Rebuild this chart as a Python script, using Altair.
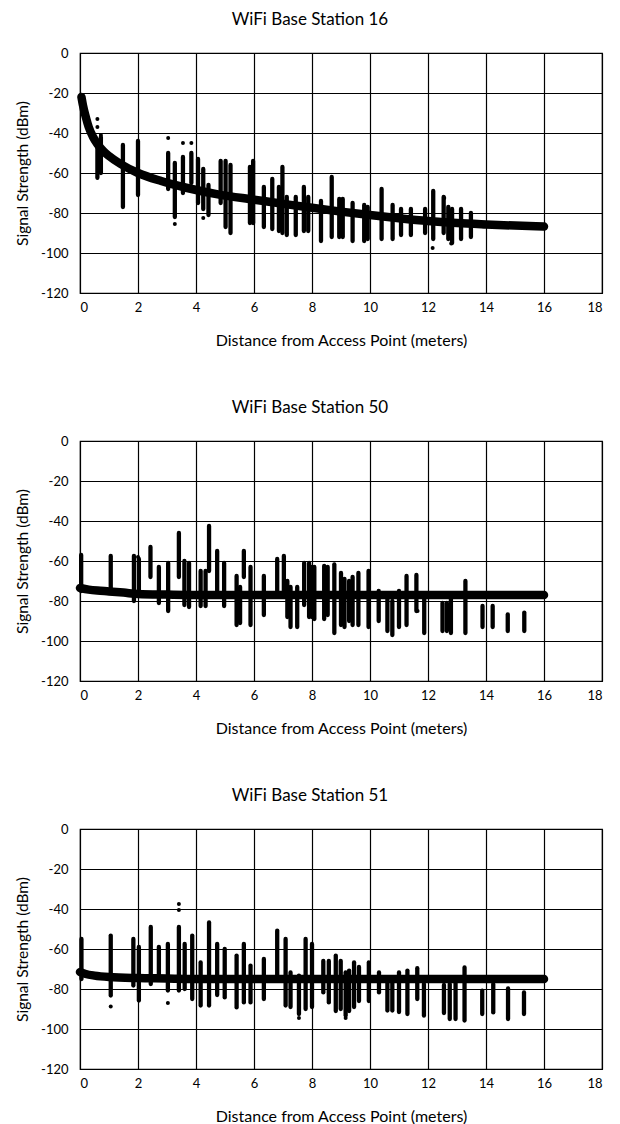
import altair as alt
import pandas as pd

FONT = "Lato"

# ---------------- WiFi Base Station 16 ----------------
s16_curve_d = [0.05, 0.1, 0.2, 0.3, 0.45, 0.6, 0.8, 1.0, 1.4, 2.0, 2.8, 3.7, 4.8, 6.0,
               7.2, 8.0, 9.0, 10.0, 11.0, 12.0, 13.0, 14.0, 15.0, 16.0]
s16_curve_s = [-22, -26, -32, -37, -42, -45.5, -49, -51.5, -55.5, -60, -64, -67.5, -70.8, -73.3,
               -75.8, -77.4, -79.3, -81, -82.6, -84, -85, -85.7, -86.3, -86.8]
s16_col_d = [0.6, 0.72, 1.48, 2.0, 3.04, 3.27, 3.55, 3.84, 4.07, 4.25, 4.43, 4.85, 5.02, 5.19,
             5.86, 5.97, 6.34, 6.63, 6.86, 6.98, 7.13, 7.44, 7.72, 7.87, 8.31, 8.68, 8.94, 9.06,
             9.4, 9.8, 9.92, 10.4, 10.78, 11.07, 11.41, 11.9, 12.18, 12.54, 12.7, 12.83, 13.14, 13.48]
s16_col_top = [-44, -42, -46, -44, -50, -55, -52, -50, -53, -58, -66, -54, -54, -56,
               -57, -54, -67, -63, -67, -57, -72, -72, -67, -72, -74, -62, -73, -73,
               -75, -76, -77, -68, -76, -78, -78, -78, -69, -72, -77, -78, -78, -80]
s16_col_bot = [-62, -60, -77, -71, -68, -82, -70, -65, -75, -78, -81, -75, -87, -90,
               -85, -85, -87, -88, -89, -90, -91, -91, -89, -89, -94, -92, -92, -92,
               -94, -94, -93, -93, -93, -91, -91, -90, -93, -90, -93, -95, -93, -92]
s16_dot_d = [0.6, 0.6, 0.72, 0.6, 3.04, 3.27, 3.55, 3.84, 4.25, 12.16, 12.8, 12.56]
s16_dot_s = [-33, -37, -41, -62.5, -42.5, -85.5, -45, -45, -82.5, -97.5, -95.3, -72.5]

# ---------------- WiFi Base Station 50 ----------------
s50_curve_d = [0, 0.3, 0.6, 1.0, 1.5, 2.0, 3, 4, 6, 8, 10, 12, 14, 16]
s50_curve_s = [-73.5, -74.3, -74.8, -75.2, -75.8, -76.5, -76.8, -77, -77, -77, -77, -77, -77, -77]
s50_col_d = [0.04, 1.06, 1.86, 2.03, 2.43, 2.72, 3.04, 3.41, 3.6, 3.76, 4.16, 4.33, 4.45, 4.73,
             4.97, 5.4, 5.52, 5.65, 5.88, 6.34, 6.8, 7.03, 7.15, 7.26, 7.49, 7.73, 7.9, 8.0,
             8.08, 8.42, 8.54, 8.77, 9.0, 9.12, 9.28, 9.4, 9.6, 9.95, 10.3, 10.6, 10.77, 11.0,
             11.26, 11.6, 11.87, 12.5, 12.65, 12.79, 13.29, 13.88, 14.23, 14.75, 15.32]
s50_col_top = [-57, -57.5, -57.5, -59, -53, -63, -61, -46, -60, -61, -65, -65, -42.5, -55,
               -61, -67.5, -73, -55, -63, -67.5, -59, -57.5, -70, -73, -73, -61, -61, -63,
               -63, -62.5, -63, -61.7, -66, -69, -70, -68, -66, -65, -75, -77, -80, -75,
               -67.5, -67, -78, -81, -81, -78, -70, -82.5, -82.5, -86.7, -85.8]
s50_col_bot = [-75, -74, -80, -76, -68, -81, -85, -68, -82, -83, -82.5, -82.5, -65, -76,
               -82.5, -92, -91, -68, -92, -87, -75, -76, -88, -93, -93, -82, -88, -88,
               -89, -89, -87, -96, -92, -93, -90, -92, -92, -93, -90, -95, -97, -93,
               -92, -85, -96, -95, -95, -96, -96, -93, -93, -95, -95]
s50_dot_d = [11.64, 3.04, 2.0]
s50_dot_s = [-85, -84, -58]

# ---------------- WiFi Base Station 51 ----------------
s51_curve_d = [0, 0.2, 0.5, 1, 2, 3, 4, 6, 8, 10, 12, 14, 16]
s51_curve_s = [-71.5, -72.5, -73.3, -74, -74.5, -74.7, -75, -75, -75, -75, -75, -75, -75]
s51_col_d = [0.05, 1.06, 1.84, 2.03, 2.44, 2.72, 3.03, 3.41, 3.61, 3.87, 4.16, 4.45, 4.73, 4.99,
             5.4, 5.65, 5.88, 6.34, 6.8, 7.09, 7.26, 7.55, 7.78, 8.0, 8.39, 8.58, 8.82, 8.99,
             9.16, 9.28, 9.45, 9.62, 9.96, 10.31, 10.6, 10.77, 11.0, 11.29, 11.63, 11.86, 12.55,
             12.75, 12.95, 13.26, 13.87, 14.25, 14.76, 15.31]
s51_col_top = [-55, -53.3, -55, -59, -49, -59, -57.5, -49, -57.5, -53.3, -66.7, -46.7, -57.5, -60,
               -63.3, -57.5, -68.3, -65, -50.8, -55, -71.7, -73.3, -55, -57.5, -66, -66, -63.3, -66,
               -71.7, -70.8, -66.7, -69, -66.7, -71.7, -76, -76, -71.7, -70.8, -69.6, -77.5, -78,
               -77.5, -77, -69.2, -80.8, -77.5, -79.7, -81.7]
s51_col_bot = [-75, -83.3, -78.3, -85.8, -77.5, -75, -80.8, -80.8, -80, -85, -88.3, -88.3, -83, -84.2,
               -89.2, -86.7, -86.7, -85, -73, -88.3, -89, -92.5, -90, -89, -81.7, -86.7, -91, -90,
               -93.3, -91, -89, -86, -86, -81.7, -90.8, -90.8, -91.5, -92.5, -85, -93.3, -92,
               -95, -95, -95.8, -92.5, -91.7, -95, -92.5]
s51_dot_d = [1.06, 3.03, 3.41, 3.41, 7.55, 9.16]
s51_dot_s = [-88.7, -87, -37.5, -40.5, -94.5, -94.5]

X_TITLE = "Distance from Access Point (meters)"
Y_TITLE = "Signal Strength (dBm)"
X_TICKS = [0, 2, 4, 6, 8, 10, 12, 14, 16, 18]
Y_TICKS = [-120, -100, -80, -60, -40, -20, 0]


def xenc(field):
    return alt.X(field, type="quantitative",
                 scale=alt.Scale(domain=[0, 18], nice=False, zero=False),
                 axis=alt.Axis(values=X_TICKS, title=X_TITLE, labelExpr="toString(datum.value)"))


def yenc(field):
    return alt.Y(field, type="quantitative",
                 scale=alt.Scale(domain=[-120, 0], nice=False),
                 axis=alt.Axis(values=Y_TICKS, title=Y_TITLE, labelExpr="toString(datum.value)"))


def panel(title, cd, cs, kd, ktop, kbot, dd, ds):
    curve = pd.DataFrame({"d": cd, "s": cs})
    cols = pd.DataFrame({"d": kd, "s": ktop, "s2": kbot})
    dots = pd.DataFrame({"d": dd, "s": ds})
    rules = alt.Chart(cols).mark_rule(color="black", strokeWidth=4.3, strokeCap="round").encode(
        x=xenc("d"), y=yenc("s"), y2="s2")
    line = alt.Chart(curve).mark_line(color="black", strokeWidth=8.5, strokeCap="round",
                                      strokeJoin="round", interpolate="monotone").encode(
        x=xenc("d"), y=yenc("s"))
    pts = alt.Chart(dots).mark_circle(color="black", size=16, opacity=1).encode(
        x=xenc("d"), y=yenc("s"))
    return alt.layer(rules, line, pts).properties(
        width=522, height=240,
        title=alt.TitleParams(title, fontSize=17, font=FONT, fontWeight="normal",
                              color="black", offset=18, anchor="middle", dx=-31))


p1 = panel("WiFi Base Station 16", s16_curve_d, s16_curve_s, s16_col_d, s16_col_top, s16_col_bot,
           s16_dot_d, s16_dot_s)
p2 = panel("WiFi Base Station 50", s50_curve_d, s50_curve_s, s50_col_d, s50_col_top, s50_col_bot,
           s50_dot_d, s50_dot_s)
p3 = panel("WiFi Base Station 51", s51_curve_d, s51_curve_s, s51_col_d, s51_col_top, s51_col_bot,
           s51_dot_d, s51_dot_s)

chart = alt.vconcat(p1, p2, p3, spacing=49).properties(
    padding={"left": 6, "top": 2, "right": 5, "bottom": 5}
).configure_view(
    stroke="black", strokeWidth=1.2
).configure_axis(
    grid=True, gridColor="black", gridWidth=1.2, gridOpacity=1,
    domain=False, ticks=False,
    labelFont=FONT, labelFontSize=13, labelColor="black",
    titleFont=FONT, titleFontSize=15.5, titleFontWeight="normal", titleColor="black"
).configure_axisX(
    labelPadding=8, titlePadding=18, titleFontSize=16
).configure_axisY(
    labelPadding=12, titlePadding=10
)

chart.save("out.html", embed_options={"renderer": "svg", "actions": False})
